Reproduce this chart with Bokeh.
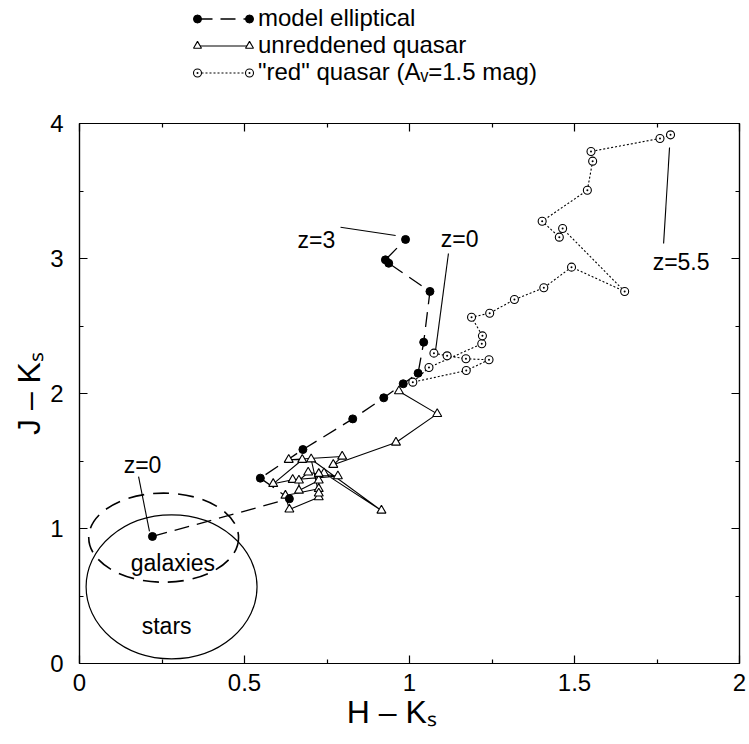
from bokeh.plotting import figure
from bokeh.layouts import column
from bokeh.models import (LinearAxis, FixedTicker, NumeralTickFormatter, Label,
                          Legend, LegendItem, Range1d)
from bokeh.embed import file_html
from bokeh.resources import INLINE

FONT = "Liberation Sans"

# ---------------- data ----------------
# model elliptical track (z = 0 ... 3)
ell_x = [0.221, 0.636, 0.548, 0.677, 0.828, 0.922, 0.981, 1.026, 1.043, 1.062, 0.937, 0.927, 0.988]
ell_y = [0.941, 1.220, 1.373, 1.585, 1.812, 1.968, 2.072, 2.150, 2.380, 2.756, 2.965, 2.990, 3.141]

# unreddened quasar track
qso_x = [0.968, 1.084, 0.959, 0.769, 0.796, 0.634, 0.675, 0.587, 0.646, 0.783, 0.693, 0.665,
         0.665, 0.725, 0.725, 0.624, 0.636, 0.725, 0.725, 0.702, 0.915, 0.741, 0.725]
qso_y = [2.017, 1.849, 1.637, 1.472, 1.533, 1.509, 1.509, 1.331, 1.361, 1.388, 1.415, 1.356,
         1.281, 1.356, 1.294, 1.244, 1.141, 1.232, 1.260, 1.513, 1.133, 1.410, 1.405]

# "red" quasar track (A_V = 1.5 mag), z = 0 ... 5.5
red_x = [1.074, 1.114, 1.171, 1.241, 1.172, 1.010, 1.059, 1.219, 1.221, 1.188, 1.243, 1.318,
         1.407, 1.491, 1.652, 1.464, 1.454, 1.402, 1.539, 1.555, 1.550, 1.759, 1.791]
red_y = [2.299, 2.279, 2.257, 2.250, 2.170, 2.084, 2.193, 2.368, 2.427, 2.565, 2.595, 2.696,
         2.783, 2.936, 2.756, 3.222, 3.158, 3.276, 3.506, 3.721, 3.793, 3.889, 3.916]

# regions: galaxies (dashed) and stars (solid)
region_names = ["galaxies", "stars"]
region_cx = [0.255, 0.279]
region_cy = [0.932, 0.568]
region_w = [0.454, 0.518]
region_h = [0.660, 1.066]
region_text_x = [0.283, 0.264]
region_text_y = [0.748, 0.281]

# redshift annotations
z_text = ["z=0", "z=3", "z=0", "z=5.5"]
z_text_x = [0.191, 0.718, 1.152, 1.823]
z_text_y = [1.470, 3.140, 3.144, 2.975]
lead_x0 = [0.179, 0.791, 1.118, 1.788]
lead_y0 = [1.385, 3.232, 3.037, 3.822]
lead_x1 = [0.212, 0.958, 1.079, 1.770]
lead_y1 = [0.978, 3.170, 2.319, 3.111]

x_ticks = [0, 0.5, 1, 1.5, 2]
x_minor = [0.25, 0.75, 1.25, 1.75]
y_ticks = [0, 1, 2, 3, 4]
y_minor = [0.5, 1.5, 2.5, 3.5]

legend_texts = ["model elliptical", "unreddened quasar", "\"red\" quasar (A\u1d65=1.5 mag)"]
x_title = "H \u2013 K\u209b\u00a0\u00a0\u00a0\u00a0"
y_title = "J \u2013 K\u209b"

LEG_H = 100

# ---------------- main figure ----------------
p = figure(width=749, height=640, x_range=Range1d(0, 2), y_range=Range1d(0, 4),
           output_backend="svg", toolbar_location=None,
           min_border_left=79, min_border_right=10, min_border_top=123 - LEG_H,
           min_border_bottom=77)
p.grid.visible = False
p.outline_line_color = "black"
p.outline_line_width = 1.2
p.background_fill_color = "white"
p.border_fill_color = "white"


def style_axis(ax, ticks, minor, show_labels):
    ax.ticker = FixedTicker(ticks=ticks, minor_ticks=minor)
    ax.formatter = NumeralTickFormatter(format="0.[0]")
    ax.major_tick_in = 8
    ax.major_tick_out = 0
    ax.minor_tick_in = 4
    ax.minor_tick_out = 0
    ax.axis_line_color = "black"
    ax.axis_line_width = 1.2
    ax.major_tick_line_width = 1.2
    ax.minor_tick_line_width = 1.2
    ax.major_label_text_font = FONT
    ax.major_label_text_color = "black"
    if show_labels:
        ax.major_label_text_font_size = "24px"
    else:
        ax.major_label_text_font_size = "0px"
        ax.major_label_standoff = 0


style_axis(p.xaxis[0], x_ticks, x_minor, True)
style_axis(p.yaxis[0], y_ticks, y_minor, True)
p.xaxis[0].major_label_standoff = 10
p.yaxis[0].major_label_standoff = 16
for ax, t in ((p.xaxis[0], x_title), (p.yaxis[0], y_title)):
    ax.axis_label = t
    ax.axis_label_text_font = FONT
    ax.axis_label_text_font_size = "32px"
    ax.axis_label_text_font_style = "normal"
    ax.axis_label_text_color = "black"
    ax.axis_label_standoff = 0

top_ax = LinearAxis()
right_ax = LinearAxis()
style_axis(top_ax, x_ticks, x_minor, False)
style_axis(right_ax, y_ticks, y_minor, False)
p.add_layout(top_ax, "above")
p.add_layout(right_ax, "right")

# regions
p.ellipse(x=region_cx[:1], y=region_cy[:1], width=region_w[:1], height=region_h[:1],
          fill_color=None, line_color="black", line_width=1.6, line_dash="16 9")
p.ellipse(x=region_cx[1:], y=region_cy[1:], width=region_w[1:], height=region_h[1:],
          fill_color=None, line_color="black", line_width=1.2)

# leader lines
p.segment(x0=lead_x0, y0=lead_y0, x1=lead_x1, y1=lead_y1, line_color="black", line_width=1.1)

# tracks
LINE_Q = dict(line_color="black", line_width=1.1)
LINE_R = dict(line_color="black", line_width=1.1, line_dash="2 2")
LINE_E = dict(line_color="black", line_width=1.3, line_dash="15 8")
MK_Q = dict(marker="triangle", size=9, fill_color="white", line_color="black", line_width=1.1)
MK_R = dict(marker="circle_dot", size=8, fill_color="white", line_color="black", line_width=1.1)
MK_E = dict(marker="circle", size=8, fill_color="black", line_color="black")

p.line(qso_x, qso_y, **LINE_Q)
p.line(red_x, red_y, **LINE_R)
p.line(ell_x, ell_y, **LINE_E)
p.scatter(qso_x, qso_y, **MK_Q)
p.scatter(red_x, red_y, **MK_R)
p.scatter(ell_x, ell_y, **MK_E)

# text labels in plot
for t, x, y in zip(region_names, region_text_x, region_text_y):
    p.add_layout(Label(x=x, y=y, text=t, text_font=FONT, text_font_size="23px",
                       text_align="center", text_baseline="middle", text_color="black"))
for t, x, y in zip(z_text, z_text_x, z_text_y):
    p.add_layout(Label(x=x, y=y, text=t, text_font=FONT, text_font_size="23px",
                       text_align="center", text_baseline="middle", text_color="black"))

# ---------------- legend strip above ----------------
# the same series are drawn here outside the visible range; only their legend keys show
lg = figure(width=749, height=LEG_H, x_range=Range1d(-3, -2), y_range=Range1d(-3, -2),
            output_backend="svg", toolbar_location=None, min_border=0,
            x_axis_type=None, y_axis_type=None)
lg.grid.visible = False
lg.outline_line_color = None
lg.border_fill_color = "white"

series = [(ell_x, ell_y, LINE_E, MK_E), (qso_x, qso_y, LINE_Q, MK_Q), (red_x, red_y, LINE_R, MK_R)]
row_vy = [68, 41, 14]
LINE_VX = 118
GW = 52
common = dict(spacing=0, padding=0, margin=0, label_text_font=FONT, label_text_font_size="24px",
              label_text_color="black", glyph_height=27, label_height=27,
              border_line_color=None, background_fill_alpha=0)
for (xs, ys, lstyle, mstyle), text, vy in zip(series, legend_texts, row_vy):
    lr = lg.line(xs, ys, **lstyle)
    mr = lg.scatter(xs, ys, **mstyle)
    lg.add_layout(Legend(items=[LegendItem(label=text, renderers=[lr])],
                         location=(LINE_VX, vy), glyph_width=GW, label_standoff=9, **common),
                  "center")
    for vx in (LINE_VX - 10, LINE_VX + GW - 10):
        lg.add_layout(Legend(items=[LegendItem(label="", renderers=[mr])],
                             location=(vx, vy), glyph_width=20, label_standoff=0, **common),
                      "center")

layout = column(lg, p, spacing=0)
open("out.html", "w").write(file_html(layout, INLINE))
